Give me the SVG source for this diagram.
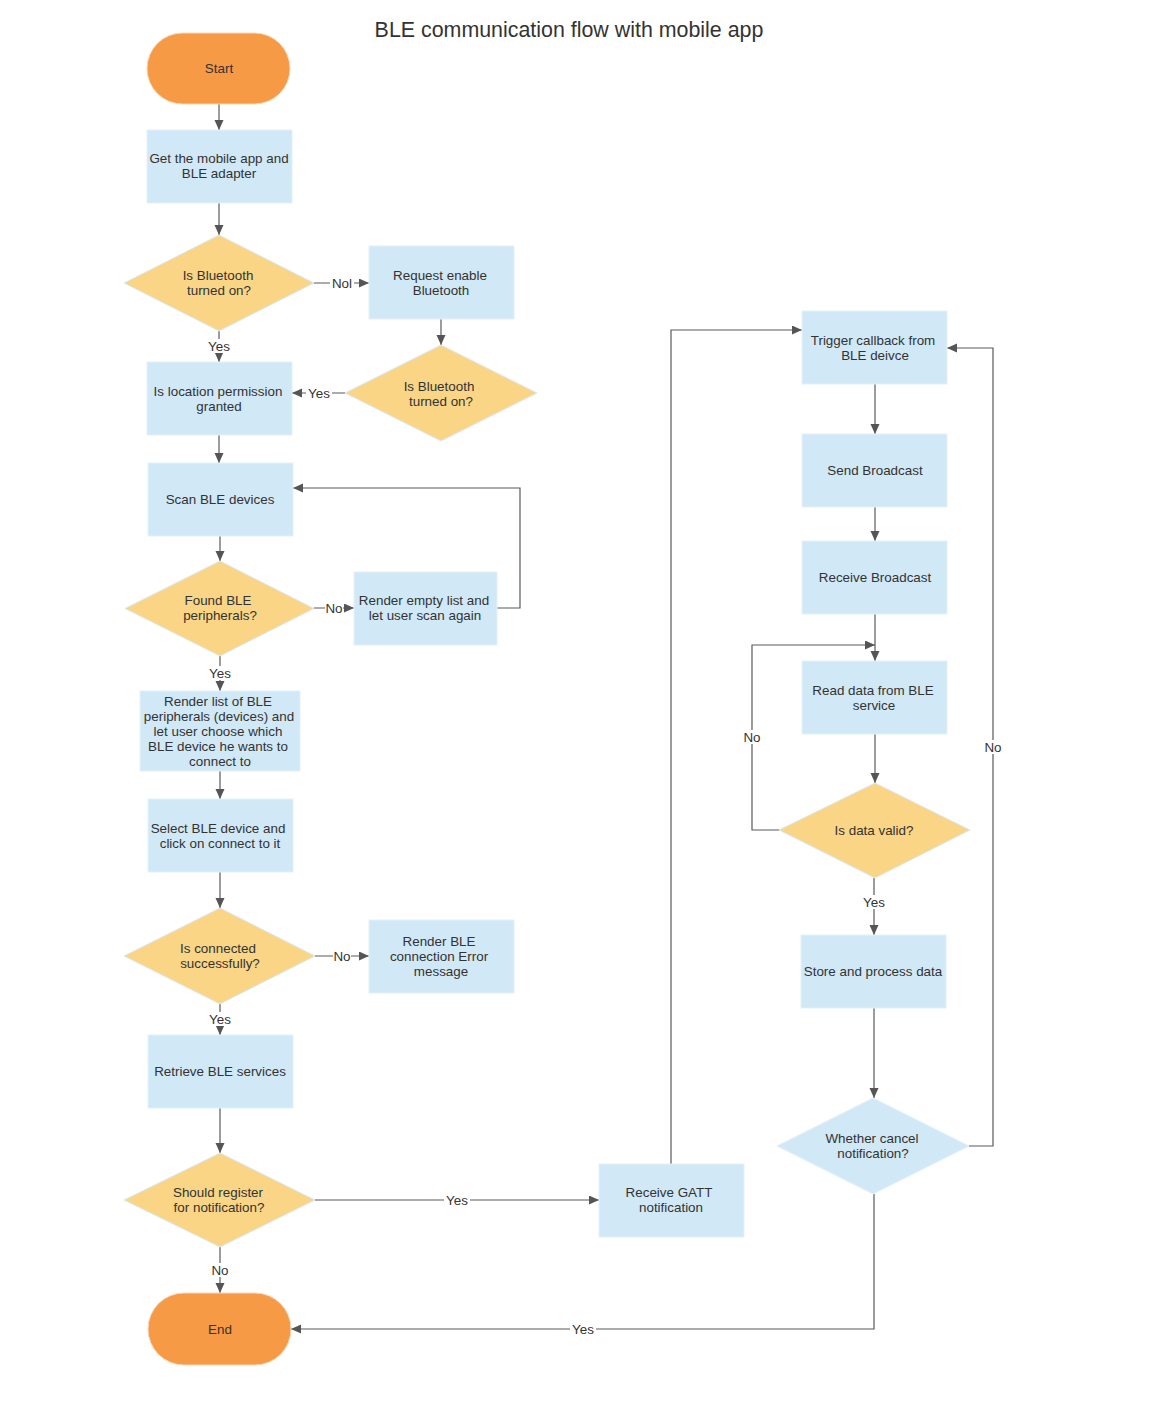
<svg xmlns="http://www.w3.org/2000/svg" width="1172" height="1418" viewBox="0 0 1172 1418">
<defs>
<style>
text{font-family:"Liberation Sans",Arial,sans-serif;fill:#333;}
.t{font-size:13.4px;text-anchor:middle;}
.title{font-size:21.4px;text-anchor:middle;}
.box{fill:#d1e8f6;stroke:#e4f1fa;stroke-width:1;}
.dec{fill:#f9d585;stroke:#d6eaf8;stroke-width:1;}
.dec2{fill:#d1e8f6;stroke:#e4f1fa;stroke-width:1;}
.term{fill:#f69a45;stroke:#f6d7b8;stroke-width:1;}
.c{fill:none;stroke:#5a5a5a;stroke-width:1.2;marker-end:url(#ar);}
.lb{fill:#fff;}
</style>
<marker id="ar" markerUnits="userSpaceOnUse" markerWidth="11" markerHeight="10" refX="10" refY="4.5" orient="auto">
<path d="M0,0 L10,4.5 L0,9 z" fill="#555"/>
</marker>
</defs>
<rect width="1172" height="1418" fill="#fff"/>
<text class="title" x="569" y="37">BLE communication flow with mobile app</text>

<g id="connectors">
<path class="c" d="M219,104 V130"/>
<path class="c" d="M219,203 V235"/>
<path class="c" d="M314,283 H369"/>
<path class="c" d="M219,331 V362"/>
<path class="c" d="M441,319 V345"/>
<path class="c" d="M345,393 H292"/>
<path class="c" d="M219,435 V463"/>
<path class="c" d="M220,536 V561"/>
<path class="c" d="M314,608 H354"/>
<path class="c" d="M497,608 H520 V488 H293"/>
<path class="c" d="M220,656 V691"/>
<path class="c" d="M220,771 V799"/>
<path class="c" d="M220,872 V908"/>
<path class="c" d="M315,956 H369"/>
<path class="c" d="M220,1004 V1035"/>
<path class="c" d="M220,1108 V1153"/>
<path class="c" d="M220,1247 V1293"/>
<path class="c" d="M315,1200 H599"/>
<path class="c" d="M671,1164 V330 H802"/>
<path class="c" d="M875,384 V434"/>
<path class="c" d="M875,507 V541"/>
<path class="c" d="M875,614 V661"/>
<path class="c" d="M780,830 H752 V645 H875"/>
<path class="c" d="M875,734 V783"/>
<path class="c" d="M874,878 V935"/>
<path class="c" d="M874,1008 V1098"/>
<path class="c" d="M969,1146 H993 V348 H947"/>
<path class="c" d="M874,1194 V1329 H291"/>
<g id="connector-labels">
<rect class="lb" x="330" y="276" width="24" height="14"/><text class="t" x="342" y="288">Nol</text>
<rect class="lb" x="206" y="339" width="26" height="14"/><text class="t" x="219" y="351">Yes</text>
<rect class="lb" x="306" y="386" width="26" height="14"/><text class="t" x="319" y="398">Yes</text>
<rect class="lb" x="325" y="601" width="18" height="14"/><text class="t" x="334" y="613">No</text>
<rect class="lb" x="207" y="666" width="26" height="14"/><text class="t" x="220" y="678">Yes</text>
<rect class="lb" x="333" y="949" width="18" height="14"/><text class="t" x="342" y="961">No</text>
<rect class="lb" x="207" y="1012" width="26" height="14"/><text class="t" x="220" y="1024">Yes</text>
<rect class="lb" x="211" y="1263" width="18" height="14"/><text class="t" x="220" y="1275">No</text>
<rect class="lb" x="444" y="1193" width="26" height="14"/><text class="t" x="457" y="1205">Yes</text>
<rect class="lb" x="743" y="730" width="18" height="14"/><text class="t" x="752" y="742">No</text>
<rect class="lb" x="861" y="895" width="26" height="14"/><text class="t" x="874" y="907">Yes</text>
<rect class="lb" x="984" y="740" width="18" height="14"/><text class="t" x="993" y="752">No</text>
<rect class="lb" x="570" y="1322" width="26" height="14"/><text class="t" x="583" y="1334">Yes</text>
</g>
</g>

<g id="start"><rect class="term" x="147" y="33" width="143" height="71" rx="35.5"/><text class="t" x="219" y="73">Start</text></g>
<g id="get-app"><rect class="box" x="147" y="130" width="145" height="73"/><text class="t" x="219" y="163">Get the mobile app and</text><text class="t" x="219" y="178">BLE adapter</text></g>
<g id="bt-on-1"><polygon class="dec" points="219,235 314,283 219,331 124,283"/><text class="t" x="218" y="280">Is Bluetooth</text><text class="t" x="219" y="295">turned on?</text></g>
<g id="request-bt"><rect class="box" x="369" y="246" width="145" height="73"/><text class="t" x="440" y="280">Request enable</text><text class="t" x="441" y="295">Bluetooth</text></g>
<g id="bt-on-2"><polygon class="dec" points="441,345 537,393 441,441 345,393"/><text class="t" x="439" y="391">Is Bluetooth</text><text class="t" x="441" y="406">turned on?</text></g>
<g id="location"><rect class="box" x="147" y="362" width="145" height="73"/><text class="t" x="218" y="396">Is location permission</text><text class="t" x="219" y="411">granted</text></g>
<g id="scan"><rect class="box" x="148" y="463" width="145" height="73"/><text class="t" x="220" y="504">Scan BLE devices</text></g>
<g id="found"><polygon class="dec" points="220,561 314,608.5 220,656 125,608.5"/><text class="t" x="218" y="605">Found BLE</text><text class="t" x="220" y="620">peripherals?</text></g>
<g id="render-empty"><rect class="box" x="354" y="572" width="143" height="73"/><text class="t" x="424" y="605">Render empty list and</text><text class="t" x="425" y="620">let user scan again</text></g>
<g id="render-list"><rect class="box" x="140" y="691" width="160" height="80"/><text class="t" x="218" y="706">Render list of BLE</text><text class="t" x="219" y="721">peripherals (devices) and</text><text class="t" x="218" y="736">let user choose which</text><text class="t" x="218" y="751">BLE device he wants to</text><text class="t" x="220" y="766">connect to</text></g>
<g id="select"><rect class="box" x="148" y="799" width="145" height="73"/><text class="t" x="218" y="833">Select BLE device and</text><text class="t" x="220" y="848">click on connect to it</text></g>
<g id="connected"><polygon class="dec" points="220,908 315,956 220,1004 124,956"/><text class="t" x="218" y="953">Is connected</text><text class="t" x="220" y="968">successfully?</text></g>
<g id="error"><rect class="box" x="369" y="920" width="145" height="73"/><text class="t" x="439" y="946">Render BLE</text><text class="t" x="439" y="961">connection Error</text><text class="t" x="441" y="976">message</text></g>
<g id="retrieve"><rect class="box" x="148" y="1035" width="145" height="73"/><text class="t" x="220" y="1076">Retrieve BLE services</text></g>
<g id="register"><polygon class="dec" points="220,1153 315,1200 220,1247 124,1200"/><text class="t" x="218" y="1197">Should register</text><text class="t" x="219" y="1212">for notification?</text></g>
<g id="end"><rect class="term" x="148" y="1293" width="143" height="72" rx="36"/><text class="t" x="220" y="1334">End</text></g>
<g id="gatt"><rect class="box" x="599" y="1164" width="145" height="73"/><text class="t" x="669" y="1197">Receive GATT</text><text class="t" x="671" y="1212">notification</text></g>
<g id="trigger"><rect class="box" x="802" y="311" width="145" height="73"/><text class="t" x="873" y="345">Trigger callback from</text><text class="t" x="875" y="360">BLE deivce</text></g>
<g id="send"><rect class="box" x="802" y="434" width="145" height="73"/><text class="t" x="875" y="475">Send Broadcast</text></g>
<g id="receive"><rect class="box" x="802" y="541" width="145" height="73"/><text class="t" x="875" y="582">Receive Broadcast</text></g>
<g id="read"><rect class="box" x="802" y="661" width="145" height="73"/><text class="t" x="873" y="695">Read data from BLE</text><text class="t" x="874" y="710">service</text></g>
<g id="valid"><polygon class="dec" points="875,783 970,830 875,878 779,830"/><text class="t" x="874" y="835">Is data valid?</text></g>
<g id="store"><rect class="box" x="801" y="935" width="145" height="73"/><text class="t" x="873" y="976">Store and process data</text></g>
<g id="cancel"><polygon class="dec2" points="873,1098 969,1146 873,1194 777,1146"/><text class="t" x="872" y="1143">Whether cancel</text><text class="t" x="873" y="1158">notification?</text></g>
</svg>
